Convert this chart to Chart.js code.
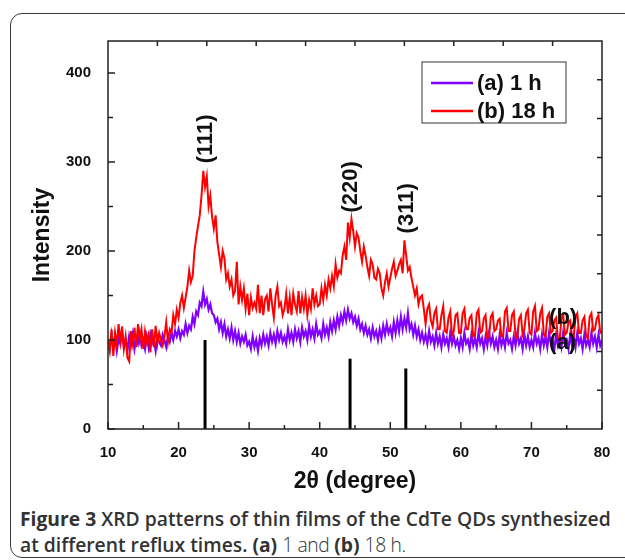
<!DOCTYPE html>
<html>
<head>
<meta charset="utf-8">
<script src="https://cdn.jsdelivr.net/npm/chart.js@4.4.1/dist/chart.umd.min.js"></script>
<style>
html, body { margin: 0; padding: 0; background: #fff; }
body { width: 625px; height: 560px; position: relative; overflow: hidden; }
#frame { position: absolute; left: 10px; top: 13px; width: 680px; height: 545px; border: 1.5px solid #3a3a3a; border-radius: 12px; box-sizing: border-box; }
#wrap { position: absolute; left: 0; top: 0; width: 625px; height: 500px; }
#caption { position: absolute; left: 20px; top: 506px; font-family: "Open Sans", sans-serif; font-size: 19.3px; line-height: 26px; color: #333; white-space: nowrap; }
#caption b { font-weight: 700; }
#caption .sb { font-weight: 600; }
#caption .lt { font-weight: 300; letter-spacing: -0.4px; }
</style>
</head>
<body>
<div id="frame"></div>
<div id="wrap"><canvas id="xrd" width="625" height="500"></canvas></div>
<div id="caption"><b>Figure 3</b> <span class="sb">XRD patterns of thin films of the CdTe QDs synthesized</span><br><span class="sb">at different reflux times.</span> <b>(a)</b> <span class="lt">1 and</span> <b>(b)</b> <span class="lt">18 h.</span></div>
<script>
// 2theta axis: first angle and step of the scan (degrees)
var angleStart = 10;
var angleStep = 0.25;

// (a) 1 h  - every 0.25 degree, 10..80 (one row = 5 degrees)
var seriesA = [
    98, 90, 106, 92, 104, 88, 102, 96, 108, 92, 100, 88, 104, 94, 106, 90, 102, 96, 108, 94,
    100, 90, 104, 92, 106, 96, 100, 88, 104, 98, 94, 106, 100, 92, 104, 98, 108, 100, 110, 104,
    112, 102, 110, 106, 118, 108, 116, 112, 126, 118, 132, 128, 142, 138, 154, 140, 146, 134, 140, 130,
    128, 120, 124, 112, 120, 108, 118, 104, 112, 102, 114, 100, 110, 98, 108, 96, 104, 98, 106, 94,
    98, 90, 104, 92, 100, 88, 102, 94, 106, 96, 104, 94, 108, 98, 106, 96, 110, 100, 108, 98,
    104, 96, 112, 100, 108, 98, 112, 102, 110, 98, 114, 104, 110, 100, 116, 104, 112, 102, 118, 106,
    110, 102, 118, 106, 114, 104, 120, 110, 122, 112, 126, 116, 128, 120, 132, 122, 134, 124, 130, 120,
    126, 116, 124, 112, 118, 108, 116, 106, 112, 102, 114, 104, 110, 100, 112, 102, 116, 106, 118, 108,
    114, 104, 120, 108, 122, 110, 126, 112, 124, 114, 130, 112, 118, 106, 116, 104, 112, 100, 108, 98,
    106, 96, 110, 98, 104, 94, 108, 96, 104, 92, 106, 96, 102, 92, 108, 96, 104, 94, 100, 90,
    102, 92, 108, 96, 100, 90, 106, 94, 102, 92, 108, 96, 102, 90, 104, 94, 108, 96, 104, 92,
    100, 90, 106, 94, 102, 92, 108, 96, 100, 90, 104, 94, 108, 96, 102, 90, 106, 94, 104, 92,
    100, 92, 108, 96, 102, 90, 106, 94, 104, 92, 108, 96, 100, 90, 106, 94, 102, 92, 108, 96,
    100, 90, 106, 94, 104, 92, 108, 96, 102, 90, 106, 94, 100, 92, 108, 96, 104, 92, 106, 94,
    100
];

// (b) 18 h
var seriesB = [
    100, 88, 112, 82, 108, 95, 118, 98, 115, 90, 104, 80, 76, 110, 96, 114, 92, 118, 100, 112,
    90, 110, 98, 106, 86, 112, 92, 116, 96, 108, 100, 94, 104, 120, 98, 112, 108, 128, 118, 134,
    125, 142, 150, 136, 148, 160, 178, 165, 172, 200, 215, 228, 240, 262, 290, 272, 284, 250, 262, 238,
    225, 240, 210, 196, 182, 200, 192, 168, 175, 160, 168, 150, 155, 188, 140, 160, 145, 158, 135, 152,
    128, 148, 136, 142, 135, 162, 130, 150, 128, 146, 150, 132, 158, 140, 125, 150, 160, 138, 142, 128,
    135, 152, 130, 148, 128, 152, 140, 132, 155, 130, 148, 135, 150, 128, 145, 135, 158, 140, 150, 138,
    140, 158, 145, 162, 150, 168, 158, 172, 160, 185, 170, 178, 175, 195, 205, 190, 232, 215, 236, 222,
    205, 220, 215, 200, 188, 205, 195, 182, 172, 190, 185, 170, 168, 180, 175, 158, 150, 165, 175, 160,
    170, 180, 188, 172, 178, 185, 190, 175, 212, 195, 178, 182, 170, 160, 150, 158, 140, 148, 150, 135,
    118, 135, 140, 122, 115, 130, 135, 112, 112, 128, 138, 110, 108, 125, 132, 105, 110, 128, 130, 108,
    108, 130, 135, 112, 112, 125, 128, 104, 105, 130, 134, 108, 110, 124, 128, 102, 104, 126, 130, 110,
    112, 122, 124, 104, 105, 132, 136, 110, 110, 128, 132, 104, 102, 124, 128, 106, 112, 130, 134, 108,
    106, 132, 138, 110, 112, 130, 136, 106, 104, 126, 130, 108, 110, 122, 125, 102, 100, 124, 128, 106,
    108, 120, 122, 104, 104, 126, 130, 108, 108, 122, 126, 104, 102, 126, 130, 110, 112, 124, 128, 108,
    110
];

// reference pattern lines (CdTe cubic)
var stickPos = [23.75, 44.3, 52.2];
var stickHeight = [100, 79, 68];
var hklLabels = ['(111)', '(220)', '(311)'];

var seriesNames = ['(a) 1 h', '(b) 18 h'];
var xMin = 10, xMax = 80;
var yMin = 0, yMax = 436;

var angles = seriesB.map(function(v, i) { return angleStart + i * angleStep; });

function toPoints(vals) {
    return vals.map(function(v, i) { return { x: angles[i], y: v }; });
}

var colA = '#7f00ff';
var colB = '#ff0000';
var ink = '#111';
var fontFam = '"Liberation Sans", Arial, sans-serif';

var datasets = [];
for (var i = 0; i < stickPos.length; i++) {
    datasets.push({
        label: hklLabels[i],
        data: [{ x: stickPos[i], y: 0 }, { x: stickPos[i], y: stickHeight[i] }],
        borderColor: '#000',
        borderWidth: 3,
        pointRadius: 0,
        order: 0
    });
}
datasets.push({ label: seriesNames[1], data: toPoints(seriesB), borderColor: colB, borderWidth: 2, pointRadius: 0, order: 1 });
datasets.push({ label: seriesNames[0], data: toPoints(seriesA), borderColor: colA, borderWidth: 2.2, pointRadius: 0, order: 2 });

/*
 * decor plugin: frame, inward ticks, peak labels and the boxed legend
 */
var decor = {
    id: 'decor',
    afterDatasetsDraw: function(chart) {
        var ctx = chart.ctx;
        var ca = chart.chartArea;
        var xs = chart.scales.x;
        var ys = chart.scales.y;
        var w = ca.right - ca.left, h = ca.bottom - ca.top;
        var v, p, len, k;

        ctx.save();
        ctx.strokeStyle = '#222';
        ctx.lineWidth = 1.5;
        ctx.strokeRect(ca.left, ca.top, w, h);

        ctx.beginPath();
        for (v = xMin; v <= xMax; v += 5) {
            p = xs.getPixelForValue(v);
            len = (v % 10 === 0) ? 7 : 4;
            ctx.moveTo(p, ca.bottom);
            ctx.lineTo(p, ca.bottom - len);
        }
        for (v = yMin; v <= yMax; v += 50) {
            p = ys.getPixelForValue(v);
            len = (v % 100 === 0) ? 7 : 5;
            ctx.moveTo(ca.left, p);
            ctx.lineTo(ca.left + len, p);
        }
        // top and right axes carry their own 10 divisions
        for (k = 1; k < 10; k++) {
            p = ca.left + w * k / 10;
            ctx.moveTo(p, ca.top);
            ctx.lineTo(p, ca.top + 5);
            p = ca.bottom - h * k / 10;
            ctx.moveTo(ca.right, p);
            ctx.lineTo(ca.right - 5, p);
        }
        ctx.stroke();

        // (hkl) labels above the peaks, rotated
        var hklY = [326, 272, 248];
        ctx.fillStyle = ink;
        ctx.font = 'bold 22px ' + fontFam;
        ctx.textAlign = 'center';
        ctx.textBaseline = 'middle';
        for (var i = 0; i < hklLabels.length; i++) {
            ctx.save();
            ctx.translate(xs.getPixelForValue(stickPos[i]), ys.getPixelForValue(hklY[i]));
            ctx.rotate(-Math.PI / 2);
            ctx.fillText(hklLabels[i], 0, 1);
            ctx.restore();
        }

        // curve tags on the right
        ctx.textAlign = 'left';
        ctx.fillText('(b)', xs.getPixelForValue(72.5), ys.getPixelForValue(125));
        ctx.fillText('(a)', xs.getPixelForValue(72.5), ys.getPixelForValue(97));

        // legend box
        var lx = ca.right - 180, ly = ca.top + 21;
        ctx.strokeStyle = '#555';
        ctx.lineWidth = 1.2;
        ctx.strokeRect(lx, ly, 144, 61);
        var cols = [colA, colB];
        for (var j = 0; j < 2; j++) {
            var yy = ly + 21 + j * 28;
            ctx.strokeStyle = cols[j];
            ctx.lineWidth = 2.5;
            ctx.beginPath();
            ctx.moveTo(lx + 9, yy);
            ctx.lineTo(lx + 51, yy);
            ctx.stroke();
            ctx.fillStyle = ink;
            ctx.fillText(seriesNames[j], lx + 55, yy + 1);
        }
        ctx.restore();
    }
};

var chart = new Chart(document.getElementById('xrd').getContext('2d'), {
    type: 'line',
    data: { datasets: datasets },
    options: {
        responsive: false,
        animation: false,
        layout: { padding: { left: 0, top: 41, right: 23, bottom: 0 } },
        plugins: { legend: { display: false }, tooltip: { enabled: false } },
        elements: { line: { tension: 0 } },
        scales: {
            x: {
                type: 'linear',
                min: xMin,
                max: xMax,
                grid: { display: false },
                border: { display: false },
                ticks: { stepSize: 10, padding: 7, color: ink, font: { family: fontFam, size: 15, weight: 'bold' } },
                title: { display: true, text: '2\u03b8 (degree)', color: ink, font: { family: fontFam, size: 23, weight: 'bold' }, padding: { top: 0, bottom: 5 } },
                afterFit: function(s) { s.height = 71; }
            },
            y: {
                type: 'linear',
                min: yMin,
                max: yMax,
                grid: { display: false },
                border: { display: false },
                ticks: { stepSize: 100, padding: 9, color: ink, font: { family: fontFam, size: 15, weight: 'bold' } },
                afterBuildTicks: function(s) { s.ticks = s.ticks.filter(function(t) { return t.value % 100 === 0; }); },
                title: { display: true, text: 'Intensity', color: ink, font: { family: fontFam, size: 23, weight: 'bold' }, padding: { top: 29, bottom: 0 } },
                afterFit: function(s) { s.width = 108; }
            }
        }
    },
    plugins: [decor]
});
</script>
</body>
</html>
